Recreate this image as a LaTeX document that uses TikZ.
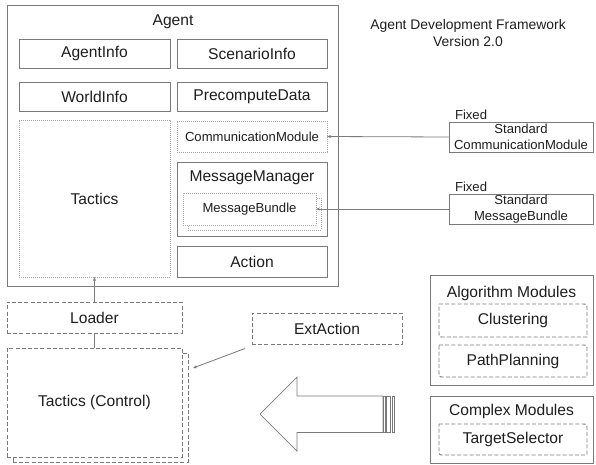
\documentclass[tikz,border=0pt]{standalone}
\usepackage{fontspec}
\setmainfont{Liberation Sans}
\usetikzlibrary{arrows.meta,calc}

\definecolor{edge}{HTML}{7A7A7A}
\definecolor{dotc}{HTML}{A8A8A8}
\definecolor{ink}{HTML}{1E1E1E}

\tikzset{
  every node/.style={text=ink, inner sep=0pt, outer sep=0pt},
  big/.style={font=\fontsize{15.6}{18}\selectfont},
  small/.style={font=\fontsize{13.1}{16}\selectfont},
  solidbox/.style={draw=edge, line width=0.9pt, fill=white, big},
  dotbox/.style={draw=dotc, line width=0.9pt, dash pattern=on 0.9pt off 1.1pt, fill=white},
  dashbox/.style={draw=edge, line width=0.9pt, dash pattern=on 4pt off 2.2pt, fill=white, big},
  cardline/.style={draw=edge, line width=0.9pt, dash pattern=on 4pt off 2.2pt},
  conn/.style={draw=edge, line width=0.8pt},
  arr/.style={conn, -{Stealth[length=4pt,width=3pt]}},
  bigarrow/.style={draw=edge, line width=0.7pt, fill=white},
}

\newcommand\boxat[6]{% style, name, x1, y1, x2, y2
  \node[#1, minimum width={#5-#3}, minimum height={#6-#4}] (#2) at ({(#3+#5)/2},{(#4+#6)/2}) {};}

\begin{document}
\begin{tikzpicture}[x=1pt,y=-1pt]
\useasboundingbox (0,0) rectangle (596,464);

% ---------- Agent ----------
\boxat{solidbox}{agent}{7}{5}{338}{286}
\node[big] at (173,22) {Agent};

\node[solidbox, minimum width=151, minimum height=29] (ainfo) at (94.5,53.5) {AgentInfo};
\node[solidbox, minimum width=150, minimum height=29] (sinfo) at (252,53.5) {ScenarioInfo};
\node[solidbox, minimum width=151, minimum height=29] (winfo) at (94.5,96.5) {WorldInfo};
\node[solidbox, minimum width=150, minimum height=29] (pdata) at (252,96.5) {PrecomputeData};

\node[dotbox, big, minimum width=151, minimum height=157] (tactics) at (94.5,198.5) {Tactics};
\node[dotbox, small, minimum width=150, minimum height=31] (comm) at (252,136.5) {CommunicationModule};

\boxat{solidbox}{msgmgr}{177}{162}{327}{236}
\node[big] at (252,178) {MessageManager};
\node[dotbox, minimum width=133, minimum height=32] (bundleback) at (254.5,214) {};
\node[dotbox, small, minimum width=133, minimum height=32] (bundle) at (249.5,209) {MessageBundle};

\node[solidbox, minimum width=150, minimum height=31] (action) at (252,261.5) {Action};

% ---------- title ----------
\node[align=center, font=\fontsize{13.9}{17}\selectfont] (title) at (468,33.5)
  {Agent Development Framework\\Version 2.0};

% ---------- fixed modules ----------
\node[solidbox, small, align=center, minimum width=144, minimum height=30] (stdcomm) at (521,137)
  {Standard\\CommunicationModule};
\node[small, anchor=south west] (fix1) at (stdcomm.north west) [xshift=6pt, yshift=2pt] {Fixed};
\node[solidbox, small, align=center, minimum width=144, minimum height=30] (stdbundle) at (521,209)
  {Standard\\MessageBundle};
\node[small, anchor=south west] (fix2) at (stdbundle.north west) [xshift=6pt, yshift=2pt] {Fixed};

\draw[arr] (stdcomm.west) -- (comm.east);
\draw[arr] (stdbundle.west) -- (bundle.east);

% ---------- loader and control ----------
\node[dashbox, minimum width=175, minimum height=31] (loader) at (94.5,317.5) {Loader};
\node[dashbox, minimum width=175, minimum height=109] (ctrlback) at (100.5,407.5) {};
\node[dashbox, minimum width=175, minimum height=109] (ctrl) at (94.5,402.5) {Tactics (Control)};

\draw[arr] (loader.north) -- (tactics.south);
\draw[conn] (loader.south) -- (ctrl.north);

\node[dashbox, minimum width=150, minimum height=31] (ext) at (327,328.5) {ExtAction};
\coordinate (extfrom) at (245,348.5);
\coordinate (extto) at (193,368);
\draw[arr] (extfrom) -- (extto);

% ---------- big arrow ----------
\draw[bigarrow] (260,414) -- (297,377) -- (297,396) -- (383,396) -- (383,432.5)
  -- (297,432.5) -- (297,451) -- cycle;
\draw[bigarrow] (383,396) rectangle (385.5,432.5);
\draw[bigarrow] (386.5,396) rectangle (390,432.5);
\draw[bigarrow] (392,396) rectangle (394,432.5);

% ---------- module groups ----------
\boxat{solidbox}{algo}{430}{275}{593}{385}
\node[big] at (511.5,293) {Algorithm Modules};
\node[big, minimum width=148, minimum height=33] (clus) at (513,320.5) {Clustering};
\node[big, minimum width=148, minimum height=32] (path) at (513,361) {PathPlanning};

\boxat{solidbox}{cplx}{430}{396}{593}{463}
\node[big] at (511.5,411.5) {Complex Modules};
\node[big, minimum width=148, minimum height=31] (target) at (513,439.5) {TargetSelector};

\foreach \n in {clus,path,target}{
  \draw[cardline] (\n.north west) -- ($(\n.north east)+(-5,0)$)
    .. controls (\n.north east) .. ($(\n.north east)+(0,5)$)
    -- (\n.south east) -- ($(\n.south west)+(5,0)$)
    .. controls (\n.south west) .. ($(\n.south west)+(0,-5)$) -- cycle;
}
\end{tikzpicture}
\end{document}
